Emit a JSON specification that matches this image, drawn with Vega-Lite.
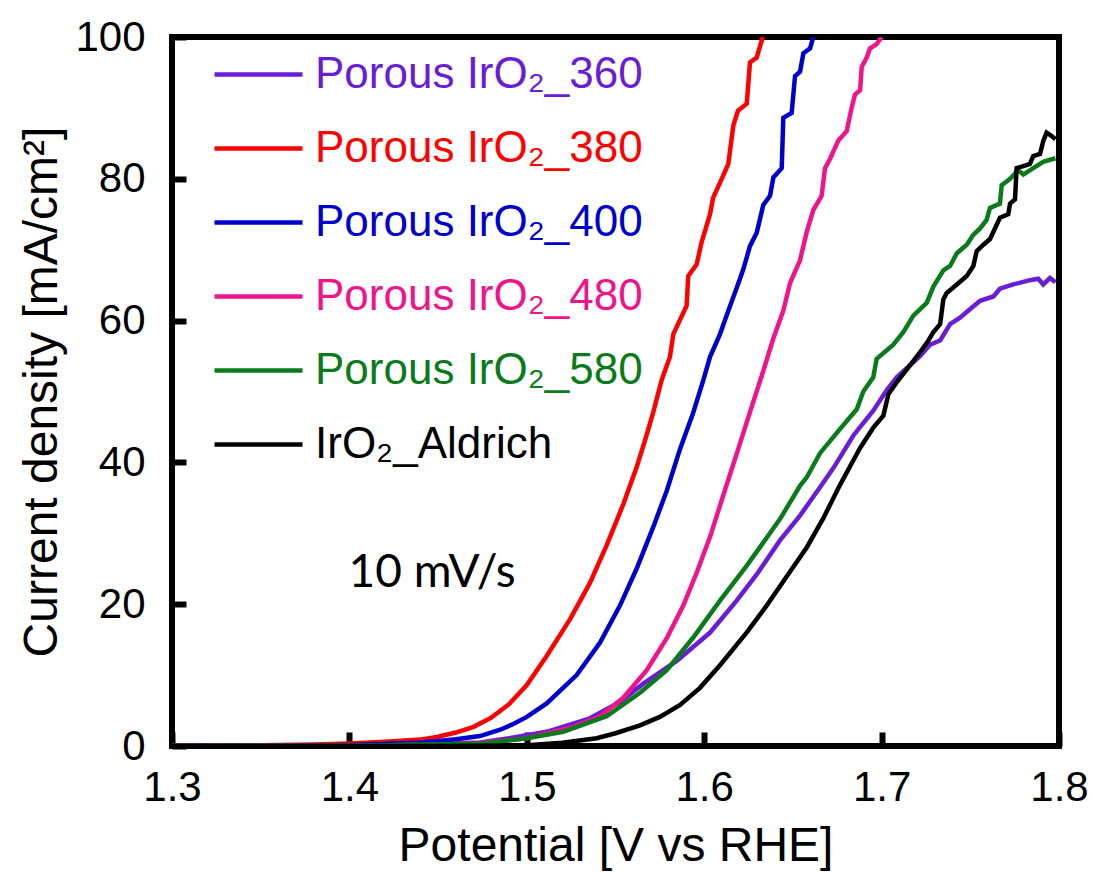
{
  "$schema": "https://vega.github.io/schema/vega-lite/v6.json",
  "width": 887,
  "height": 709,
  "autosize": {"type": "none"},
  "padding": {"left": 172, "top": 37, "right": 34, "bottom": 126},
  "background": "white",
  "config": {"view": {"stroke": "black", "strokeWidth": 6}, "font": "Liberation Sans"},
  "layer": [
    {
      "data": {"values": [
        {"k":"360","v":1.30,"j":0},{"k":"360","v":1.40,"j":0.1},{"k":"360","v":1.44,"j":0.25},{"k":"360","v":1.4736,"j":0.5},{"k":"360","v":1.49,"j":1.1},{"k":"360","v":1.5112,"j":2.0},{"k":"360","v":1.5356,"j":3.9},{"k":"360","v":1.5525,"j":6.2},{"k":"360","v":1.5657,"j":8.8},{"k":"360","v":1.5845,"j":12.0},{"k":"360","v":1.6033,"j":16.0},{"k":"360","v":1.6183,"j":20.5},{"k":"360","v":1.6296,"j":24.2},{"k":"360","v":1.6427,"j":29.0},{"k":"360","v":1.654,"j":32.5},{"k":"360","v":1.6653,"j":36.5},{"k":"360","v":1.6728,"j":39.2},{"k":"360","v":1.6841,"j":43.8},{"k":"360","v":1.6953,"j":47.3},{"k":"360","v":1.7029,"j":50.2},{"k":"360","v":1.7085,"j":52.0},{"k":"360","v":1.716,"j":53.7},{"k":"360","v":1.7216,"j":55.0},{"k":"360","v":1.7273,"j":56.6},{"k":"360","v":1.733,"j":57.2},{"k":"360","v":1.7386,"j":59.5},{"k":"360","v":1.7442,"j":60.4},{"k":"360","v":1.7498,"j":61.6},{"k":"360","v":1.7555,"j":62.8},{"k":"360","v":1.763,"j":63.4},{"k":"360","v":1.7667,"j":64.5},{"k":"360","v":1.7742,"j":65.1},{"k":"360","v":1.7836,"j":65.7},{"k":"360","v":1.7883,"j":65.9},{"k":"360","v":1.7911,"j":65.1},{"k":"360","v":1.7949,"j":66.0},{"k":"360","v":1.798,"j":65.4},

        {"k":"380","v":1.30,"j":0.05},{"k":"380","v":1.35,"j":0.1},{"k":"380","v":1.38,"j":0.2},{"k":"380","v":1.40,"j":0.35},{"k":"380","v":1.42,"j":0.6},{"k":"380","v":1.44,"j":0.9},{"k":"380","v":1.45,"j":1.3},{"k":"380","v":1.46,"j":1.9},{"k":"380","v":1.47,"j":2.7},{"k":"380","v":1.48,"j":4.0},{"k":"380","v":1.49,"j":5.9},{"k":"380","v":1.50,"j":8.6},{"k":"380","v":1.5112,"j":12.7},{"k":"380","v":1.5244,"j":17.9},{"k":"380","v":1.5356,"j":23.0},{"k":"380","v":1.545,"j":28.3},{"k":"380","v":1.5544,"j":34.1},{"k":"380","v":1.5619,"j":39.3},{"k":"380","v":1.5676,"j":43.9},{"k":"380","v":1.5713,"j":47.1},{"k":"380","v":1.576,"j":51.6},{"k":"380","v":1.5807,"j":54.9},{"k":"380","v":1.5826,"j":58.1},{"k":"380","v":1.5901,"j":62.1},{"k":"380","v":1.591,"j":66.3},{"k":"380","v":1.5957,"j":67.9},{"k":"380","v":1.5986,"j":71.1},{"k":"380","v":1.6033,"j":75.0},{"k":"380","v":1.605,"j":77.3},{"k":"380","v":1.609,"j":79.5},{"k":"380","v":1.6136,"j":82.1},{"k":"380","v":1.6164,"j":87.5},{"k":"380","v":1.619,"j":89.6},{"k":"380","v":1.624,"j":90.6},{"k":"380","v":1.6258,"j":96.4},{"k":"380","v":1.6296,"j":97.1},{"k":"380","v":1.633,"j":100},

        {"k":"400","v":1.30,"j":0},{"k":"400","v":1.35,"j":0.05},{"k":"400","v":1.40,"j":0.15},{"k":"400","v":1.42,"j":0.3},{"k":"400","v":1.44,"j":0.5},{"k":"400","v":1.45,"j":0.7},{"k":"400","v":1.46,"j":0.95},{"k":"400","v":1.4736,"j":1.4},{"k":"400","v":1.485,"j":2.3},{"k":"400","v":1.4924,"j":3.1},{"k":"400","v":1.5,"j":4.1},{"k":"400","v":1.5112,"j":6.0},{"k":"400","v":1.5281,"j":10.0},{"k":"400","v":1.5413,"j":14.6},{"k":"400","v":1.5525,"j":19.8},{"k":"400","v":1.5619,"j":25.0},{"k":"400","v":1.5713,"j":30.9},{"k":"400","v":1.5789,"j":36.0},{"k":"400","v":1.5864,"j":41.9},{"k":"400","v":1.5938,"j":47.0},{"k":"400","v":1.5995,"j":51.6},{"k":"400","v":1.6033,"j":54.9},{"k":"400","v":1.6089,"j":58.1},{"k":"400","v":1.6136,"j":61.4},{"k":"400","v":1.6183,"j":64.6},{"k":"400","v":1.622,"j":67.2},{"k":"400","v":1.6258,"j":70.5},{"k":"400","v":1.6296,"j":72.4},{"k":"400","v":1.6333,"j":76.3},{"k":"400","v":1.6371,"j":77.6},{"k":"400","v":1.639,"j":80.2},{"k":"400","v":1.6437,"j":81.5},{"k":"400","v":1.6446,"j":88.6},{"k":"400","v":1.6493,"j":89.3},{"k":"400","v":1.6512,"j":94.5},{"k":"400","v":1.654,"j":95.1},{"k":"400","v":1.6559,"j":97.7},{"k":"400","v":1.6597,"j":98.4},{"k":"400","v":1.6615,"j":100},

        {"k":"480","v":1.30,"j":0},{"k":"480","v":1.40,"j":0.05},{"k":"480","v":1.45,"j":0.2},{"k":"480","v":1.4736,"j":0.4},{"k":"480","v":1.5,"j":1.1},{"k":"480","v":1.5262,"j":2.7},{"k":"480","v":1.5413,"j":4.2},{"k":"480","v":1.5544,"j":6.8},{"k":"480","v":1.5676,"j":10.7},{"k":"480","v":1.5789,"j":15.2},{"k":"480","v":1.5882,"j":19.8},{"k":"480","v":1.5957,"j":24.4},{"k":"480","v":1.6033,"j":29.5},{"k":"480","v":1.6108,"j":35.4},{"k":"480","v":1.6183,"j":41.2},{"k":"480","v":1.6258,"j":47.1},{"k":"480","v":1.6333,"j":52.9},{"k":"480","v":1.639,"j":57.5},{"k":"480","v":1.6446,"j":61.4},{"k":"480","v":1.6484,"j":65.3},{"k":"480","v":1.654,"j":68.5},{"k":"480","v":1.6577,"j":72.4},{"k":"480","v":1.6615,"j":75.6},{"k":"480","v":1.6662,"j":77.6},{"k":"480","v":1.6681,"j":81.5},{"k":"480","v":1.6709,"j":82.8},{"k":"480","v":1.6756,"j":85.4},{"k":"480","v":1.6803,"j":86.7},{"k":"480","v":1.6831,"j":90.0},{"k":"480","v":1.685,"j":91.9},{"k":"480","v":1.6879,"j":92.5},{"k":"480","v":1.6888,"j":95.8},{"k":"480","v":1.6916,"j":97.1},{"k":"480","v":1.6935,"j":98.4},{"k":"480","v":1.6972,"j":99.0},{"k":"480","v":1.7,"j":100},

        {"k":"580","v":1.30,"j":0},{"k":"580","v":1.40,"j":0.05},{"k":"580","v":1.4736,"j":0.3},{"k":"580","v":1.5,"j":1.1},{"k":"580","v":1.5205,"j":2.0},{"k":"580","v":1.545,"j":4.2},{"k":"580","v":1.5638,"j":7.5},{"k":"580","v":1.5789,"j":10.7},{"k":"580","v":1.5938,"j":15.3},{"k":"580","v":1.6089,"j":20.5},{"k":"580","v":1.6239,"j":25.4},{"k":"580","v":1.6427,"j":32.0},{"k":"580","v":1.654,"j":36.7},{"k":"580","v":1.6578,"j":37.9},{"k":"580","v":1.6653,"j":41.3},{"k":"580","v":1.6765,"j":44.7},{"k":"580","v":1.686,"j":47.5},{"k":"580","v":1.6897,"j":50.0},{"k":"580","v":1.6953,"j":52.0},{"k":"580","v":1.6972,"j":54.6},{"k":"580","v":1.7066,"j":56.6},{"k":"580","v":1.7123,"j":58.4},{"k":"580","v":1.7179,"j":60.7},{"k":"580","v":1.7254,"j":62.5},{"k":"580","v":1.7292,"j":64.8},{"k":"580","v":1.7348,"j":67.1},{"k":"580","v":1.7386,"j":67.7},{"k":"580","v":1.7424,"j":69.5},{"k":"580","v":1.748,"j":70.7},{"k":"580","v":1.7517,"j":72.1},{"k":"580","v":1.7555,"j":73.0},{"k":"580","v":1.7592,"j":74.2},{"k":"580","v":1.7611,"j":75.9},{"k":"580","v":1.7667,"j":76.5},{"k":"580","v":1.7677,"j":79.1},{"k":"580","v":1.7724,"j":80.0},{"k":"580","v":1.777,"j":81.2},{"k":"580","v":1.7799,"j":80.6},{"k":"580","v":1.7855,"j":81.5},{"k":"580","v":1.7911,"j":82.4},{"k":"580","v":1.798,"j":82.9},

        {"k":"Aldrich","v":1.30,"j":0},{"k":"Aldrich","v":1.45,"j":0},{"k":"Aldrich","v":1.5,"j":0.1},{"k":"Aldrich","v":1.52,"j":0.45},{"k":"Aldrich","v":1.5394,"j":1.1},{"k":"Aldrich","v":1.55,"j":1.8},{"k":"Aldrich","v":1.5638,"j":2.9},{"k":"Aldrich","v":1.575,"j":4.1},{"k":"Aldrich","v":1.5864,"j":5.8},{"k":"Aldrich","v":1.5976,"j":8.2},{"k":"Aldrich","v":1.6089,"j":11.4},{"k":"Aldrich","v":1.6239,"j":16.0},{"k":"Aldrich","v":1.6352,"j":19.8},{"k":"Aldrich","v":1.6465,"j":23.9},{"k":"Aldrich","v":1.6578,"j":28.0},{"k":"Aldrich","v":1.6671,"j":32.1},{"k":"Aldrich","v":1.6765,"j":36.8},{"k":"Aldrich","v":1.6841,"j":40.3},{"k":"Aldrich","v":1.6878,"j":42.0},{"k":"Aldrich","v":1.6953,"j":44.9},{"k":"Aldrich","v":1.701,"j":46.6},{"k":"Aldrich","v":1.7038,"j":49.6},{"k":"Aldrich","v":1.7085,"j":51.3},{"k":"Aldrich","v":1.716,"j":53.7},{"k":"Aldrich","v":1.7216,"j":55.5},{"k":"Aldrich","v":1.7264,"j":57.2},{"k":"Aldrich","v":1.7292,"j":58.4},{"k":"Aldrich","v":1.733,"j":59.5},{"k":"Aldrich","v":1.7348,"j":63.0},{"k":"Aldrich","v":1.7367,"j":63.9},{"k":"Aldrich","v":1.7424,"j":65.1},{"k":"Aldrich","v":1.748,"j":66.3},{"k":"Aldrich","v":1.7517,"j":67.7},{"k":"Aldrich","v":1.7536,"j":69.8},{"k":"Aldrich","v":1.7574,"j":70.7},{"k":"Aldrich","v":1.7611,"j":71.5},{"k":"Aldrich","v":1.7639,"j":73.0},{"k":"Aldrich","v":1.7667,"j":74.5},{"k":"Aldrich","v":1.7714,"j":75.0},{"k":"Aldrich","v":1.7724,"j":76.5},{"k":"Aldrich","v":1.7752,"j":77.1},{"k":"Aldrich","v":1.7761,"j":81.5},{"k":"Aldrich","v":1.7799,"j":81.8},{"k":"Aldrich","v":1.7836,"j":82.1},{"k":"Aldrich","v":1.7855,"j":83.2},{"k":"Aldrich","v":1.7893,"j":83.5},{"k":"Aldrich","v":1.7911,"j":85.3},{"k":"Aldrich","v":1.793,"j":86.5},{"k":"Aldrich","v":1.7949,"j":86.2},{"k":"Aldrich","v":1.798,"j":85.6}
      ]},
      "mark": {"type": "line", "strokeWidth": 4.5, "clip": true},
      "encoding": {
        "x": {"field": "v", "type": "quantitative",
          "scale": {"domain": [1.3, 1.8], "nice": false, "zero": false},
          "axis": {"title": "Potential [V vs RHE]", "values": [1.3, 1.4, 1.5, 1.6, 1.7, 1.8], "format": ".1f",
            "labelFont": "Liberation Sans", "labelFontSize": 42, "labelColor": "black", "labelFlush": false, "labelOverlap": false,
            "tickSize": -14, "tickWidth": 6, "tickColor": "black", "domain": false, "grid": false, "labelPadding": 35,
            "titleFont": "Liberation Sans", "titleFontSize": 48, "titleFontWeight": "normal", "titleColor": "black", "titlePadding": 14}},
        "y": {"field": "j", "type": "quantitative",
          "scale": {"domain": [0, 100], "nice": false},
          "axis": {"title": "Current density [mA/cm²]", "values": [0, 20, 40, 60, 80, 100],
            "labelFont": "Liberation Sans", "labelFontSize": 42, "labelColor": "black", "labelFlush": false, "labelOverlap": false,
            "tickSize": -14, "tickWidth": 6, "tickColor": "black", "domain": false, "grid": false, "labelPadding": 41,
            "titleFont": "Liberation Sans", "titleFontSize": 48, "titleFontWeight": "normal", "titleColor": "black", "titlePadding": 8}},
        "color": {"field": "k", "type": "nominal",
          "scale": {"domain": ["360", "380", "400", "480", "580", "Aldrich"],
                    "range": ["#6A1DD6", "#FF0000", "#0000CC", "#F0148C", "#0B7A1A", "#000000"]},
          "legend": {"orient": "none", "legendX": 40, "legendY": -9, "title": null, "padding": 0,
            "symbolType": "stroke", "symbolSize": 7744, "symbolStrokeWidth": 4.5,
            "labelFont": "Liberation Sans", "labelFontSize": 44, "labelOffset": 10, "labelLimit": 0, "rowPadding": 5,
            "labelExpr": "datum.label == 'Aldrich' ? 'IrO₂_Aldrich' : 'Porous IrO₂_' + datum.label",
            "labelColor": {"expr": "scale('color', datum.value)"}}}
      }
    },
    {
      "data": {"values": [{}]},
      "mark": {"type": "text", "text": "10 mV/s", "font": "Lato", "fontSize": 46, "align": "center", "baseline": "alphabetic", "color": "black"},
      "encoding": {"x": {"datum": 1.4466}, "y": {"datum": 22.4}}
    }
  ]
}
